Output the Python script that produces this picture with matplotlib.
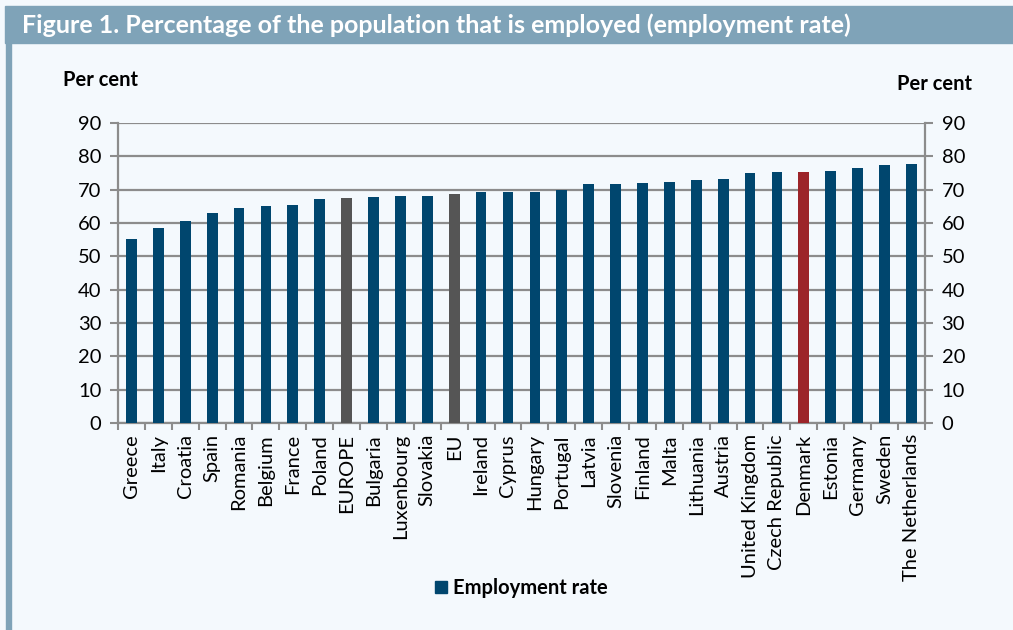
import numpy as np
import matplotlib.pyplot as plt
from matplotlib.patches import Rectangle, Patch

plt.rcParams['font.family'] = ['Lato', 'DejaVu Sans']

countries = ['Greece', 'Italy', 'Croatia', 'Spain', 'Romania', 'Belgium', 'France',
             'Poland', 'EUROPE', 'Bulgaria', 'Luxenbourg', 'Slovakia', 'EU', 'Ireland',
             'Cyprus', 'Hungary', 'Portugal', 'Latvia', 'Slovenia', 'Finland', 'Malta',
             'Lithuania', 'Austria', 'United Kingdom', 'Czech Republic', 'Denmark',
             'Estonia', 'Germany', 'Sweden', 'The Netherlands']
rate = [55.1, 58.4, 60.6, 63.0, 64.5, 65.2, 65.4, 67.3, 67.6, 67.7, 68.1, 68.2,
        68.8, 69.2, 69.2, 69.3, 69.9, 71.7, 71.7, 72.0, 72.2, 72.8, 73.1, 74.9,
        75.3, 75.2, 75.7, 76.4, 77.4, 77.8]

blue = '#00466e'
grey = '#555555'
red = '#9c2429'
bg = '#f4f9fd'
frame = '#7fa3b8'

colors = []
for c in countries:
    if c in ('EUROPE', 'EU'):
        colors.append(grey)
    elif c == 'Denmark':
        colors.append(red)
    else:
        colors.append(blue)

fig = plt.figure(figsize=(10.13, 6.3), dpi=100, facecolor=bg)
ax = fig.add_axes([0.1165, 0.3286, 0.7965, 0.4764], facecolor=bg)

x = np.arange(len(countries))
ax.bar(x, rate, width=0.4, color=colors, zorder=3)

ax.set_xlim(-0.5, len(countries) - 0.5)
ax.set_ylim(0, 90)
ax.set_yticks(range(0, 91, 10))
ax.yaxis.grid(True, color='#8c8c8c', linewidth=1.6, zorder=0)
ax.set_xticks(x)
ax.set_xticklabels(countries, rotation=90, fontsize=14.5)
ax.set_xticks(np.arange(-0.5, len(countries)), minor=True)
ax.tick_params(axis='x', which='major', length=0, pad=8)
ax.tick_params(axis='x', which='minor', length=5, width=1.5, color='#8c8c8c')
ax.tick_params(axis='y', labelsize=14.5, length=6, width=1.5, color='#8c8c8c',
               left=True, right=True, labelleft=True, labelright=True, pad=6)
for s in ax.spines.values():
    s.set_color('#8c8c8c')
    s.set_linewidth(1.6)
ax.spines['top'].set_visible(False)

fig.text(63 / 1013, 1 - 80 / 630, 'Per cent', fontsize=14.5, fontweight='bold', va='center')
fig.text(972 / 1013, 1 - 84 / 630, 'Per cent', fontsize=14.5, fontweight='bold', va='center', ha='right')

# banner and left frame line
fig.patches.append(Rectangle((5 / 1013, 1 - 43 / 630), 1, 37 / 630, transform=fig.transFigure,
                             color=frame, zorder=0))
fig.patches.append(Rectangle((6 / 1013, 0), 5 / 1013, 1 - 43 / 630, transform=fig.transFigure,
                             color=frame, zorder=0))
fig.text(22 / 1013, 1 - 25 / 630, 'Figure 1. Percentage of the population that is employed (employment rate)',
         fontsize=18, fontweight='bold', color='white', va='center')

fig.legend(handles=[Patch(color=blue, label='Employment rate')], loc='center',
           bbox_to_anchor=(521 / 1013, 1 - 588 / 630), frameon=False,
           handlelength=0.6, handleheight=0.6, handletextpad=0.3,
           prop={'size': 14.5, 'weight': 'bold'})

fig.savefig('out.png', dpi=100, facecolor=bg)
